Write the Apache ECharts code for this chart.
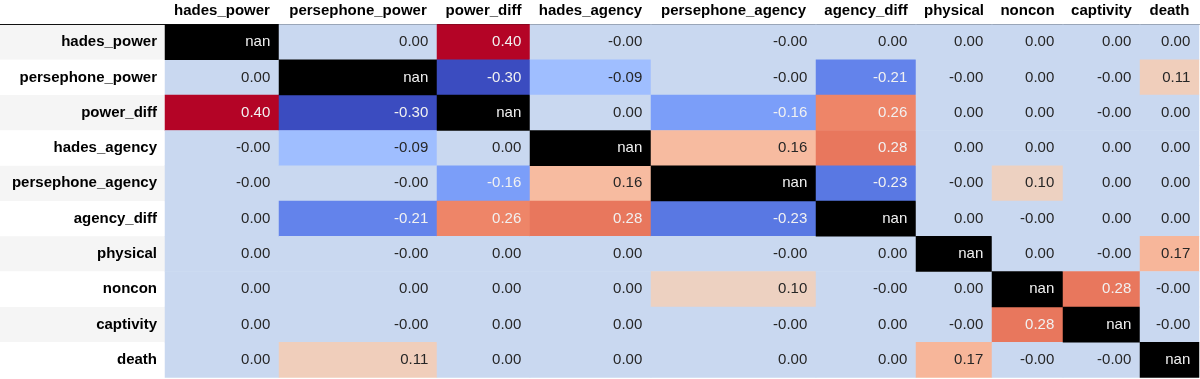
<!DOCTYPE html>
<html><head><meta charset="utf-8">
<script src="https://cdn.jsdelivr.net/npm/echarts@6/dist/echarts.min.js"></script>
<style>html,body{margin:0;padding:0;background:#fff}#c{width:1200px;height:379px}</style>
</head><body><div id="c"></div>
<script>
// ---- data ----
const columns = ['hades_power','persephone_power','power_diff','hades_agency','persephone_agency','agency_diff','physical','noncon','captivity','death'];
const rowNames = columns.slice();
// null = nan ; -0.001 = value shown as "-0.00"
const rowHadesPower       = [null, 0.00, 0.40, -0.001, -0.001, 0.00, 0.00, 0.00, 0.00, 0.00];
const rowPersephonePower  = [0.00, null, -0.30, -0.09, -0.001, -0.21, -0.001, 0.00, -0.001, 0.11];
const rowPowerDiff        = [0.40, -0.30, null, 0.00, -0.16, 0.26, 0.00, 0.00, -0.001, 0.00];
const rowHadesAgency      = [-0.001, -0.09, 0.00, null, 0.16, 0.28, 0.00, 0.00, 0.00, 0.00];
const rowPersephoneAgency = [-0.001, -0.001, -0.16, 0.16, null, -0.23, -0.001, 0.10, 0.00, 0.00];
const rowAgencyDiff       = [0.00, -0.21, 0.26, 0.28, -0.23, null, 0.00, -0.001, 0.00, 0.00];
const rowPhysical         = [0.00, -0.001, 0.00, 0.00, -0.001, 0.00, null, 0.00, -0.001, 0.17];
const rowNoncon           = [0.00, 0.00, 0.00, 0.00, 0.10, -0.001, 0.00, null, 0.28, -0.001];
const rowCaptivity        = [0.00, -0.001, 0.00, 0.00, -0.001, 0.00, -0.001, 0.28, null, -0.001];
const rowDeath            = [0.00, 0.11, 0.00, 0.00, 0.00, 0.00, 0.17, -0.001, -0.001, null];
const matrixRows = [rowHadesPower,rowPersephonePower,rowPowerDiff,rowHadesAgency,rowPersephoneAgency,rowAgencyDiff,rowPhysical,rowNoncon,rowCaptivity,rowDeath];
const vMin = -0.30, vMax = 0.40;

// ---- layout / style ----
const colEdges = [165, 279, 437, 530, 651, 816, 916, 992, 1063, 1140, 1199];
const gridTop = 24.5, gridHeight = 353;
const coolwarm = [[59,76,192],[68,90,204],[77,104,215],[87,117,225],[98,130,234],[108,142,241],[119,154,247],[130,165,251],[141,176,254],[152,185,255],[163,194,255],[174,201,253],[184,208,249],[194,213,244],[204,217,238],[213,219,230],[221,221,221],[229,216,209],[236,211,197],[241,204,184],[245,196,172],[247,187,160],[247,177,148],[247,166,135],[244,154,123],[241,141,111],[236,127,99],[229,112,88],[222,96,77],[213,80,66],[203,62,56],[192,40,47],[180,4,38]];
const cwHex = coolwarm.map(c => 'rgb(' + c.join(',') + ')');
function cwAt(t){
  t = Math.max(0, Math.min(1, t));
  const p = t * (coolwarm.length - 1), i = Math.min(Math.floor(p), coolwarm.length - 2), f = p - i;
  return coolwarm[i].map((a, k) => a + (coolwarm[i+1][k] - a) * f);
}
function lum(rgb){
  const c = rgb.map(v => { v /= 255; return v <= 0.03928 ? v / 12.92 : Math.pow((v + 0.055) / 1.055, 2.4); });
  return 0.2126*c[0] + 0.7152*c[1] + 0.0722*c[2];
}
const FONT = '"Liberation Sans", Arial, Helvetica, sans-serif';
const FS = 15;

const grids = [], xAxes = [], yAxes = [], series = [], valueSeriesIdx = [];
// label column
grids.push({left: 0, width: colEdges[0], top: gridTop, height: gridHeight});
xAxes.push({gridIndex: 0, type: 'category', data: [''], position: 'top',
  axisLine: {show: true, lineStyle: {color: '#111', width: 1}}, axisTick: {show: false}, axisLabel: {show: false}});
yAxes.push({gridIndex: 0, type: 'category', data: rowNames, inverse: true, position: 'right',
  axisLine: {show: false}, axisTick: {show: false},
  axisLabel: {inside: true, margin: 8, fontWeight: 'bold', fontSize: FS, color: '#000', fontFamily: FONT},
  splitArea: {show: true, areaStyle: {color: ['#f5f5f5', '#ffffff']}}});

columns.forEach((col, ci) => {
  const g = ci + 1;
  grids.push({left: colEdges[ci], width: colEdges[ci+1] - colEdges[ci], top: gridTop, height: gridHeight});
  xAxes.push({gridIndex: g, type: 'category', data: [col], position: 'top',
    axisLine: {show: true, lineStyle: {color: '#111', width: 1}}, axisTick: {show: false},
    axisLabel: {margin: 6, fontWeight: 'bold', fontSize: FS, color: '#000', fontFamily: FONT}});
  yAxes.push({gridIndex: g, type: 'category', data: rowNames, inverse: true, show: false});
  const vals = [], nans = [];
  matrixRows.forEach((row, ri) => {
    const v = row[ci];
    if (v === null) { nans.push([0, ri, 0]); return; }
    const L = lum(cwAt((v - vMin) / (vMax - vMin)));
    vals.push({value: [0, ri, v], label: {color: L < 0.408 ? '#f1f1f1' : '#262626'}});
  });
  valueSeriesIdx.push(series.length);
  series.push({type: 'heatmap', xAxisIndex: g, yAxisIndex: g, data: vals,
    label: {show: true, position: 'insideRight', distance: 9, fontSize: FS, fontFamily: FONT,
      formatter: p => p.value[2].toFixed(2)},
    emphasis: {disabled: true}});
  series.push({type: 'heatmap', xAxisIndex: g, yAxisIndex: g, data: nans,
    itemStyle: {color: '#000'},
    label: {show: true, position: 'insideRight', distance: 9, fontSize: FS, fontFamily: FONT, color: '#f1f1f1',
      formatter: 'nan'},
    emphasis: {disabled: true}});
});

const chart = echarts.init(document.getElementById('c'), null, {renderer: 'canvas'});
chart.setOption({
  animation: false,
  backgroundColor: '#fff',
  grid: grids, xAxis: xAxes, yAxis: yAxes,
  visualMap: {type: 'continuous', show: false, min: vMin, max: vMax, dimension: 2,
    seriesIndex: valueSeriesIdx, inRange: {color: cwHex}},
  series: series
});
</script></body></html>
